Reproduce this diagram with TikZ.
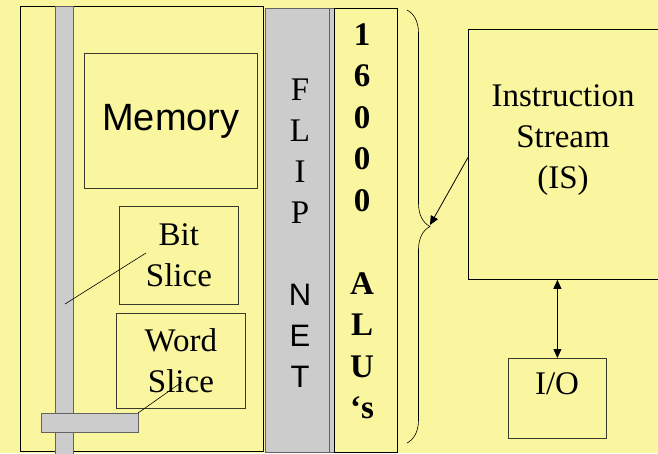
\documentclass[tikz,border=0pt]{standalone}
\usepackage{fontspec}
\setmainfont{Liberation Serif}
\setsansfont{Liberation Sans}
\usetikzlibrary{arrows.meta, decorations.pathreplacing}
\definecolor{padyellow}{HTML}{FAF6A0}
\definecolor{busgray}{HTML}{CCCCCC}
\definecolor{edgegray}{HTML}{626262}
\definecolor{boxline}{HTML}{3B3A2A}

\tikzset{
  lbl/.style={font=\fontsize{33}{41}\selectfont, align=center, inner sep=0pt},
  alu/.style={font=\bfseries\fontsize{33}{41}\selectfont, inner sep=0pt},
  box/.style={draw=boxline, line width=0.8pt, inner sep=0pt},
  bus/.style={fill=busgray, draw=edgegray, line width=0.8pt},
}

\begin{document}
\begin{tikzpicture}[x=1pt, y=-1pt, >={Triangle[length=9pt, width=8pt]}]

% Background
\fill[padyellow] (0,0) rectangle (658,453);
\useasboundingbox (0,0) rectangle (658,453);
\clip (0,0) rectangle (658,453);

% PE array with memory, bit and word slices
\draw[line width=0.8pt] (20,6) rectangle (263,451);
\draw[bus] (55,6) rectangle (73,460);
\draw[bus] (41,413) rectangle (138,432);
\coordinate (hbus) at (138,413);

\node[box, anchor=north west, minimum width=173pt, minimum height=135pt,
      font=\sffamily\fontsize{38}{44}\selectfont] (memory) at (84,53) {Memory};
\node[box, lbl, anchor=north west, minimum width=119pt, minimum height=98pt] (bitslice) at (119,206) {Bit\\Slice};
\node[box, lbl, anchor=north west, minimum width=129pt, minimum height=95pt] (wordslice) at (116,313) {Word\\Slice};

% Slice pointers
\coordinate (bitpin) at (65,304);
\coordinate (bitend) at (146,253);
\coordinate (wordend) at (182,382);
\draw[line width=0.6pt] (bitpin) -- (bitend);
\draw[line width=0.6pt] (hbus) -- (wordend);

% Flip network
\draw[bus] (265,8) rectangle (329,452);
\draw[bus] (329,8) rectangle (334,452);
\foreach \ch [count=\i from 0] in {F,L,I,P}
  \node[lbl, anchor=base] (flip\i) at (300,100+41*\i) {\ch};
\foreach \ch [count=\i from 0] in {N,E,T}
  \node[lbl, font=\sffamily\fontsize{31}{41}\selectfont, anchor=base] (net\i) at (300,305+41*\i) {\ch};

% ALU column
\draw[line width=0.8pt] (334,8) rectangle (397,452);
\foreach \ch [count=\i from 0] in {1,6,0,0,0}
  \node[alu, anchor=base] (cnt\i) at (362,45+41.5*\i) {\ch};
\foreach \ch [count=\i from 0] in {A,L,U,\textquoteleft s}
  \node[alu, anchor=base] (alus\i) at (362,294+41.5*\i) {\ch};

% Brace over the ALUs
\draw[line width=0.6pt, decorate, decoration={brace, amplitude=23pt}] (407,10) -- (407,443);
\coordinate (bracetip) at (430,225);

% Instruction stream and I/O
\node[draw, line width=0.8pt, anchor=north west, minimum width=220pt, minimum height=250pt] (is) at (468,29) {};
\node[lbl] (istext) at (563,140) {Instruction\\Stream\\(IS)};
\node[box, anchor=north west, minimum width=98pt, minimum height=80pt] (io) at (508,358) {};
\node[lbl] (iotext) at (557,384) {I/O};

\draw[->, line width=0.8pt] ([yshift=-3pt]is.west) -- (bracetip);
\draw[<->, line width=0.8pt] (io.north |- is.south) -- (io.north);

\end{tikzpicture}
\end{document}
